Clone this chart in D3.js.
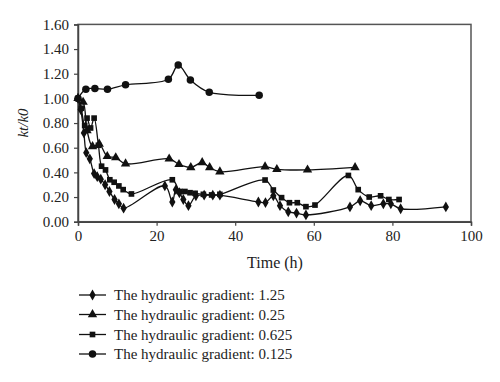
<!DOCTYPE html>
<html><head><meta charset="utf-8">
<script src="https://cdn.jsdelivr.net/npm/d3@7"></script>
<style>body{margin:0;background:#fff}svg{display:block}text{font-family:"Liberation Serif","DejaVu Serif",serif;fill:#222}</style>
</head><body><svg id="c" width="500" height="382"></svg>
<script>
// ---- data ----
const seriesNames = ["The hydraulic gradient: 1.25","The hydraulic gradient: 0.25","The hydraulic gradient: 0.625","The hydraulic gradient: 0.125"];
const time125 = [0,0.7,1.5,2.1,3.0,4.1,4.9,5.8,6.9,8.0,9.3,10.4,11.6,22.1,24.0,24.9,25.8,26.8,28.1,30.0,32.1,34.3,36.1,45.9,47.7,49.7,51.4,53.5,55.6,58.0,69.2,71.8,74.6,77.7,79.6,82.1,93.6];
const val125  = [1.0,0.91,0.72,0.56,0.51,0.39,0.365,0.345,0.30,0.245,0.18,0.145,0.11,0.29,0.16,0.26,0.235,0.18,0.13,0.21,0.215,0.215,0.215,0.16,0.155,0.21,0.13,0.08,0.07,0.055,0.12,0.17,0.13,0.145,0.145,0.105,0.12];
const time025 = [0,1.3,2.3,3.7,5.4,7.45,9.6,12.1,23.2,25.7,28.7,31.6,33.5,36.1,47.6,50.6,58.4,70.5];
const val025  = [1.0,0.97,0.74,0.61,0.63,0.53,0.52,0.47,0.51,0.465,0.44,0.48,0.44,0.405,0.446,0.425,0.42,0.44];
const time0625 = [0,0.8,1.7,2.3,3.2,4.1,5.2,6.0,7.0,8.1,9.2,10.4,11.5,13.6,24.0,25.9,27.2,28.5,29.8,31.9,34.0,36.1,47.6,49.7,51.8,53.8,55.8,58.0,60.3,68.8,71.3,74.1,77.0,79.1,81.7];
const val0625  = [1.0,0.92,0.78,0.84,0.76,0.84,0.62,0.45,0.42,0.34,0.32,0.29,0.26,0.225,0.34,0.245,0.245,0.235,0.23,0.222,0.217,0.222,0.338,0.257,0.195,0.154,0.154,0.122,0.135,0.375,0.26,0.20,0.21,0.18,0.18];
const time0125 = [0,2.0,4.3,7.5,12.1,23.0,25.5,28.6,33.4,46.1];
const val0125  = [1.0,1.075,1.08,1.075,1.11,1.155,1.27,1.15,1.05,1.025];
const xTicks = [0,20,40,60,80,100];
const yTicks = [0,0.2,0.4,0.6,0.8,1.0,1.2,1.4,1.6];

// ---- chart ----
const svg = d3.select("#c");
const x = d3.scaleLinear().domain([0,100]).range([78,471]);
const y = d3.scaleLinear().domain([0,1.6]).range([221.7,24.4]);
const axisCol = "#444";

svg.append("rect").attr("x",x(0)).attr("y",y(1.6)).attr("width",x(100)-x(0)).attr("height",y(0)-y(1.6))
  .attr("fill","none").attr("stroke","#555").attr("stroke-width",1.5);

const gx = svg.append("g").attr("transform",`translate(0,${y(0)})`)
  .call(d3.axisBottom(x).tickValues(xTicks).tickSize(4).tickPadding(5).tickFormat(d3.format("d")));
const gy = svg.append("g").attr("transform",`translate(${x(0)},0)`)
  .call(d3.axisLeft(y).tickValues(yTicks).tickSize(4).tickPadding(5).tickFormat(d3.format(".2f")));
[gx,gy].forEach(g=>{
  g.select(".domain").attr("stroke",axisCol).attr("stroke-width",1.5);
  g.selectAll(".tick line").attr("stroke",axisCol).attr("stroke-width",1.2);
  g.selectAll(".tick text").attr("font-size",15).attr("font-family","Liberation Serif, serif").attr("fill","#222");
});

svg.append("text").attr("x",275).attr("y",268).attr("text-anchor","middle").attr("font-size",16).text("Time (h)");
svg.append("text").attr("transform","translate(28,123) rotate(-90)").attr("text-anchor","middle")
  .attr("font-size",15).attr("font-style","italic").text("kt/k0");

const sets = [
  {t:time125, v:val125, m:"diamond"},
  {t:time025, v:val025, m:"triangle"},
  {t:time0625, v:val0625, m:"square"},
  {t:time0125, v:val0125, m:"circle"}
];
const symbols = {
  diamond: d3.symbol().type(d3.symbolDiamond).size(34),
  triangle: d3.symbol().type(d3.symbolTriangle).size(38),
  square: d3.symbol().type(d3.symbolSquare).size(32),
  circle: d3.symbol().type(d3.symbolCircle).size(44)
};
const line = d3.line().x(d=>x(d[0])).y(d=>y(d[1])).curve(d3.curveCatmullRom.alpha(0.5));
sets.forEach(s=>{
  const pts = s.t.map((t,i)=>[t,s.v[i]]);
  svg.append("path").attr("d",line(pts)).attr("fill","none").attr("stroke","#111").attr("stroke-width",1.3);
  svg.append("g").selectAll("path").data(pts).join("path")
    .attr("transform",d=>`translate(${x(d[0])},${y(d[1])})`)
    .attr("d",symbols[s.m]).attr("fill","#111");
});

const legY = [295,314.5,334.5,354];
const leg = svg.append("g");
sets.forEach((s,i)=>{
  const g = leg.append("g").attr("transform",`translate(0,${legY[i]})`);
  g.append("line").attr("x1",79).attr("x2",106).attr("y1",0).attr("y2",0).attr("stroke","#111").attr("stroke-width",1.3);
  g.append("path").attr("transform","translate(92.5,0)").attr("d",symbols[s.m]).attr("fill","#111");
  g.append("text").attr("x",114).attr("y",5).attr("font-size",15).text(seriesNames[i]);
});
</script></body></html>
